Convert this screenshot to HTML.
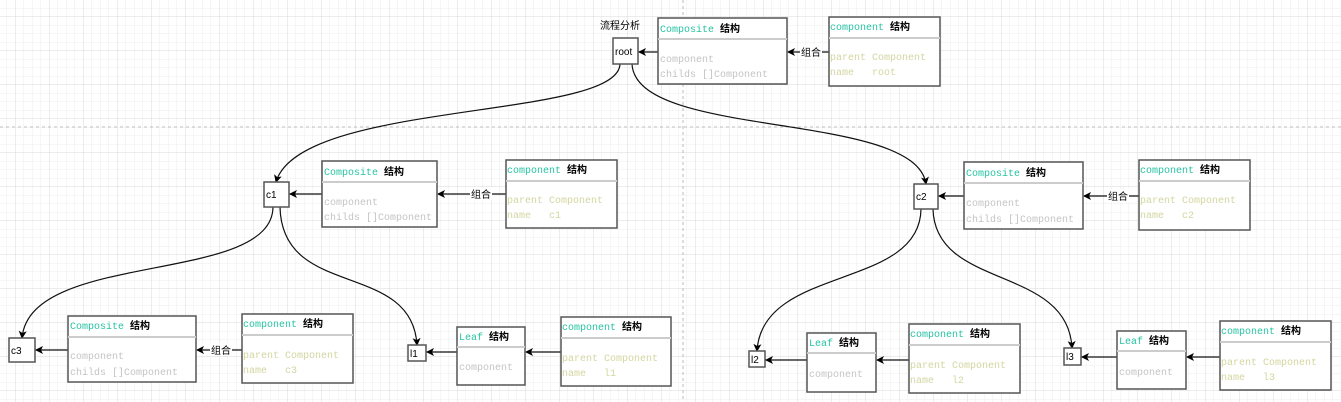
<!DOCTYPE html>
<html><head><meta charset="utf-8"><style>
html,body{margin:0;padding:0;background:#fff;}
svg{display:block;}
text{font-family:"Liberation Mono","Noto Sans CJK SC",monospace;font-size:10px;white-space:pre;}
.h{fill:#26c3a3;}
.b{fill:#000;font-family:"Liberation Sans","Noto Sans CJK SC",sans-serif;font-weight:bold;}
.g{fill:#c4c4c4;}
.o{fill:#d3d6a0;}
.bx{fill:#fff;stroke:#555;stroke-width:1.5;}
.sep{stroke:#ccc;stroke-width:2;}
.ln{stroke:#111;stroke-width:1.2;fill:none;}
.lbl{font-family:"Liberation Sans","Noto Sans CJK SC",sans-serif;font-size:10px;fill:#000;}
</style></head><body>
<svg width="1341" height="402" viewBox="0 0 1341 402" xmlns="http://www.w3.org/2000/svg" xml:space="preserve">
<defs>
<pattern id="mn" x="15" y="16.5" width="8.5" height="8.5" patternUnits="userSpaceOnUse"><path d="M0 0H8.5M0 0V8.5" stroke="#eeeeee" stroke-width="1"/></pattern>
<pattern id="mj" x="15" y="16.5" width="34" height="34" patternUnits="userSpaceOnUse"><path d="M0 0H34M0 0V34" stroke="#d8d8d8" stroke-width="1"/></pattern>
<marker id="ar" markerWidth="8" markerHeight="8" refX="7" refY="4" orient="auto" markerUnits="userSpaceOnUse"><path d="M0,0 L8,4 L0,8 L2,4 z" fill="#000"/></marker>
</defs>
<rect width="1341" height="402" fill="url(#mn)"/>
<rect width="1341" height="402" fill="url(#mj)"/>
<line x1="0" y1="127" x2="1341" y2="127" stroke="#bbb" stroke-dasharray="3,3"/>
<line x1="683" y1="0" x2="683" y2="402" stroke="#bbb" stroke-dasharray="3,3"/>

<path class="ln" marker-end="url(#ar)" d="M620,64 C618,120 300,100 276,182"/>
<path class="ln" marker-end="url(#ar)" d="M632,64 C636,140 915,110 926,184"/>
<path class="ln" marker-end="url(#ar)" d="M273,207 C272,285 30,250 22,338"/>
<path class="ln" marker-end="url(#ar)" d="M280,207 C282,300 412,260 417,345"/>
<path class="ln" marker-end="url(#ar)" d="M921,209 C920,290 762,265 757,351"/>
<path class="ln" marker-end="url(#ar)" d="M933,209 C935,290 1068,265 1072,348"/>

<text class="lbl" x="600" y="29">流程分析</text>
<rect class="bx" x="613" y="38" width="25" height="26"/><text class="lbl" x="615" y="55">root</text>
<rect class="bx" x="264" y="182" width="25" height="25"/><text class="lbl" x="266" y="198">c1</text>
<rect class="bx" x="914" y="184" width="24" height="25"/><text class="lbl" x="916" y="200">c2</text>
<rect class="bx" x="9" y="338" width="26" height="24"/><text class="lbl" x="11" y="354">c3</text>
<rect class="bx" x="408" y="345" width="18" height="16"/><text class="lbl" x="410" y="357">l1</text>
<rect class="bx" x="749" y="351" width="16" height="16"/><text class="lbl" x="751" y="363">l2</text>
<rect class="bx" x="1064" y="348" width="17" height="17"/><text class="lbl" x="1066" y="360">l3</text>

<line class="ln" marker-end="url(#ar)" x1="658" y1="52" x2="639" y2="52"/>
<line class="ln" marker-end="url(#ar)" x1="829" y1="52" x2="788" y2="52"/>
<rect x="800" y="45" width="22" height="13" fill="#fff"/><text class="lbl" x="801" y="56">组合</text>
<line class="ln" marker-end="url(#ar)" x1="322" y1="194" x2="290" y2="194"/>
<line class="ln" marker-end="url(#ar)" x1="506" y1="194" x2="438" y2="194"/>
<rect x="470" y="187" width="22" height="13" fill="#fff"/><text class="lbl" x="471" y="198">组合</text>
<line class="ln" marker-end="url(#ar)" x1="964" y1="196" x2="939" y2="196"/>
<line class="ln" marker-end="url(#ar)" x1="1139" y1="196" x2="1084" y2="196"/>
<rect x="1107" y="189" width="22" height="13" fill="#fff"/><text class="lbl" x="1108" y="200">组合</text>
<line class="ln" marker-end="url(#ar)" x1="68" y1="350" x2="36" y2="350"/>
<line class="ln" marker-end="url(#ar)" x1="242" y1="350" x2="197" y2="350"/>
<rect x="210" y="343" width="22" height="13" fill="#fff"/><text class="lbl" x="211" y="354">组合</text>
<line class="ln" marker-end="url(#ar)" x1="457" y1="352" x2="427" y2="352"/>
<line class="ln" marker-end="url(#ar)" x1="561" y1="352" x2="526" y2="352"/>
<line class="ln" marker-end="url(#ar)" x1="807" y1="360" x2="766" y2="360"/>
<line class="ln" marker-end="url(#ar)" x1="909" y1="360" x2="877" y2="360"/>
<line class="ln" marker-end="url(#ar)" x1="1117" y1="357" x2="1082" y2="357"/>
<line class="ln" marker-end="url(#ar)" x1="1220" y1="357" x2="1187" y2="357"/>

<g transform="translate(658,18)"><rect class="bx" width="129" height="66"/><line class="sep" x1="0" y1="21" x2="129" y2="21"/>
<text x="2" y="14"><tspan class="h">Composite</tspan> <tspan class="b">结构</tspan></text>
<text class="g" x="2" y="44">component</text><text class="g" x="2" y="59">childs []Component</text></g>
<g transform="translate(322,161)"><rect class="bx" width="115" height="66"/><line class="sep" x1="0" y1="21" x2="115" y2="21"/>
<text x="2" y="14"><tspan class="h">Composite</tspan> <tspan class="b">结构</tspan></text>
<text class="g" x="2" y="44">component</text><text class="g" x="2" y="59">childs []Component</text></g>
<g transform="translate(964,162)"><rect class="bx" width="119" height="67"/><line class="sep" x1="0" y1="21" x2="119" y2="21"/>
<text x="2" y="14"><tspan class="h">Composite</tspan> <tspan class="b">结构</tspan></text>
<text class="g" x="2" y="44">component</text><text class="g" x="2" y="60">childs []Component</text></g>
<g transform="translate(68,316)"><rect class="bx" width="128" height="66"/><line class="sep" x1="0" y1="21" x2="128" y2="21"/>
<text x="2" y="13"><tspan class="h">Composite</tspan> <tspan class="b">结构</tspan></text>
<text class="g" x="2" y="43">component</text><text class="g" x="2" y="59">childs []Component</text></g>

<g transform="translate(457,327)"><rect class="bx" width="68" height="58"/><line class="sep" x1="0" y1="20" x2="68" y2="20"/>
<text x="2" y="13"><tspan class="h">Leaf</tspan> <tspan class="b">结构</tspan></text><text class="g" x="2" y="43">component</text></g>
<g transform="translate(807,333)"><rect class="bx" width="69" height="59"/><line class="sep" x1="0" y1="20" x2="69" y2="20"/>
<text x="2" y="13"><tspan class="h">Leaf</tspan> <tspan class="b">结构</tspan></text><text class="g" x="2" y="44">component</text></g>
<g transform="translate(1117,331)"><rect class="bx" width="69" height="58"/><line class="sep" x1="0" y1="20" x2="69" y2="20"/>
<text x="2" y="13"><tspan class="h">Leaf</tspan> <tspan class="b">结构</tspan></text><text class="g" x="2" y="44">component</text></g>

<g transform="translate(829,17)"><rect class="bx" width="111" height="69"/><line class="sep" x1="0" y1="21" x2="111" y2="21"/>
<text x="1" y="13"><tspan class="h">component</tspan> <tspan class="b">结构</tspan></text>
<text class="o" x="1" y="43">parent Component</text><text class="o" x="1" y="58">name   root</text></g>
<g transform="translate(506,160)"><rect class="bx" width="111" height="68"/><line class="sep" x1="0" y1="21" x2="111" y2="21"/>
<text x="1" y="13"><tspan class="h">component</tspan> <tspan class="b">结构</tspan></text>
<text class="o" x="1" y="43">parent Component</text><text class="o" x="1" y="58">name   c1</text></g>
<g transform="translate(1139,160)"><rect class="bx" width="111" height="70"/><line class="sep" x1="0" y1="21" x2="111" y2="21"/>
<text x="1" y="13"><tspan class="h">component</tspan> <tspan class="b">结构</tspan></text>
<text class="o" x="1" y="43">parent Component</text><text class="o" x="1" y="58">name   c2</text></g>
<g transform="translate(242,314)"><rect class="bx" width="111" height="69"/><line class="sep" x1="0" y1="21" x2="111" y2="21"/>
<text x="1" y="13"><tspan class="h">component</tspan> <tspan class="b">结构</tspan></text>
<text class="o" x="1" y="44">parent Component</text><text class="o" x="1" y="59">name   c3</text></g>
<g transform="translate(561,317)"><rect class="bx" width="110" height="69"/><line class="sep" x1="0" y1="21" x2="110" y2="21"/>
<text x="1" y="13"><tspan class="h">component</tspan> <tspan class="b">结构</tspan></text>
<text class="o" x="1" y="44">parent Component</text><text class="o" x="1" y="59">name   l1</text></g>
<g transform="translate(909,324)"><rect class="bx" width="111" height="69"/><line class="sep" x1="0" y1="21" x2="111" y2="21"/>
<text x="1" y="13"><tspan class="h">component</tspan> <tspan class="b">结构</tspan></text>
<text class="o" x="1" y="44">parent Component</text><text class="o" x="1" y="59">name   l2</text></g>
<g transform="translate(1220,321)"><rect class="bx" width="111" height="69"/><line class="sep" x1="0" y1="21" x2="111" y2="21"/>
<text x="1" y="13"><tspan class="h">component</tspan> <tspan class="b">结构</tspan></text>
<text class="o" x="1" y="44">parent Component</text><text class="o" x="1" y="59">name   l3</text></g>
</svg>
</body></html>
